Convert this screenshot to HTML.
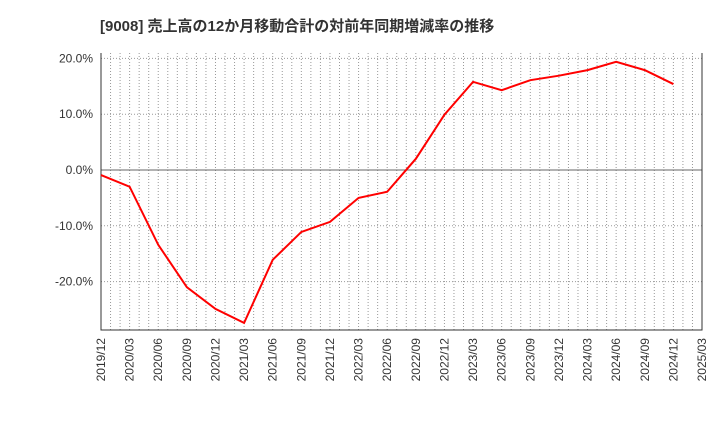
<!DOCTYPE html>
<html><head><meta charset="utf-8"><style>
body{margin:0;background:#fff;width:720px;height:440px;overflow:hidden;font-family:"Liberation Sans","Noto Sans CJK JP",sans-serif}
</style></head><body>
<svg width="720" height="440" id="c">
<text x="100" y="31" font-size="15" font-weight="bold" fill="#333">[9008]  売上高の12か月移動合計の対前年同期増減率の推移</text>
</svg>
<script>
const categories=["2019/12","2020/03","2020/06","2020/09","2020/12","2021/03","2021/06","2021/09","2021/12","2022/03","2022/06","2022/09","2022/12","2023/03","2023/06","2023/09","2023/12","2024/03","2024/06","2024/09","2024/12","2025/03"];
const values=[-0.9,-3.0,-13.4,-21.0,-24.9,-27.4,-16.1,-11.1,-9.3,-5.0,-3.9,2.0,9.9,15.8,14.3,16.1,16.9,17.9,19.4,17.9,15.4];
const yTicks=[20,10,0,-10,-20];
const yTickLabels=["20.0%","10.0%","0.0%","-10.0%","-20.0%"];
const svg=document.getElementById('c');const NS="http://www.w3.org/2000/svg";
const L=101,R=702,T=53,B=330;
const xs=i=>L+(R-L)*i/(categories.length-1);
const ys=v=>170-v*5.58;
function mk(t,a,p){const e=document.createElementNS(NS,t);for(const k in a)e.setAttribute(k,a[k]);(p||svg).appendChild(e);return e;}
const g=mk('g',{});


for(let m=1;m<(categories.length-1)*3;m++){const x=L+(R-L)*m/((categories.length-1)*3);
const l=mk('line',{x1:x,x2:x,y1:T,y2:B,stroke:'#999','stroke-dasharray':'1,2','stroke-width':1},g);

}
yTicks.forEach((v,i)=>{const y=ys(v);
const l=mk('line',{x1:L,x2:R,y1:y,y2:y,stroke:v===0?'#666':'#999','stroke-dasharray':v===0?'none':'1,2','stroke-width':1},g);


const t=mk('text',{x:L-8,y:y+4,'text-anchor':'end','font-size':12,fill:'#333'});t.textContent=yTickLabels[i];

});
const ax=mk('path',{d:`M${L} ${T}V${B}H${R}V${T}`,fill:'none',stroke:'#333','stroke-width':1});


categories.forEach((c,i)=>{const x=xs(i);
const t=mk('text',{transform:`translate(${x+4},${B+8}) rotate(-90)`,'text-anchor':'end','font-size':12,fill:'#333'});t.textContent=c;

});
const p=mk('polyline',{points:values.map((v,i)=>xs(i)+','+ys(v)).join(' '),fill:'none',stroke:'#f00','stroke-width':2});


</script>
</body></html>
